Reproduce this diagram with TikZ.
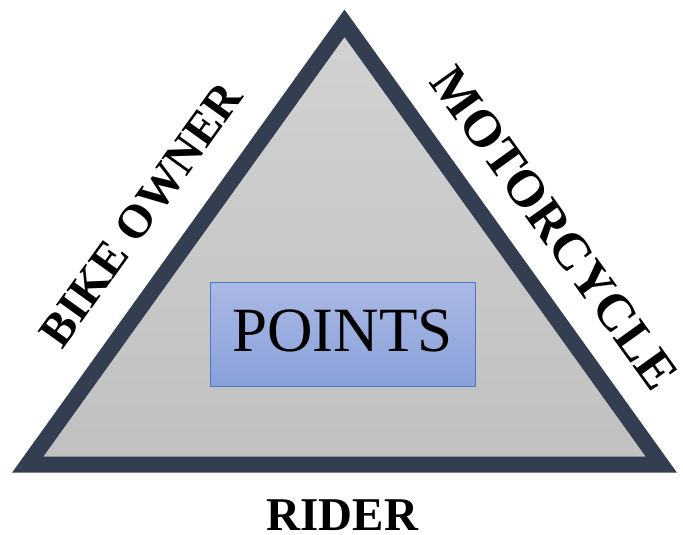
\documentclass[tikz,border=0pt]{standalone}
\usepackage{fontspec}
\setmainfont{Liberation Serif}
\definecolor{edgeslate}{RGB}{51,63,80}
\definecolor{greytop}{RGB}{210,210,210}
\definecolor{greybot}{RGB}{192,192,192}
\definecolor{bluetop}{RGB}{170,184,228}
\definecolor{bluebot}{RGB}{137,161,218}
\definecolor{blueline}{RGB}{72,120,206}
\tikzset{
  sidelabel/.style={font=\bfseries\fontsize{47}{47}\selectfont, anchor=base},
  pointsbox/.style={draw=blueline, line width=1pt, top color=bluetop, bottom color=bluebot,
    minimum width=265pt, minimum height=104pt, inner sep=0pt,
    text height=41pt, text depth=7pt, font=\fontsize{63}{63}\selectfont}
}
\begin{document}
\begin{tikzpicture}[x=1pt, y=1pt]
  \useasboundingbox (0,0) rectangle (683,535);
  \coordinate (T) at (344.5,511.7);
  \coordinate (L) at (27.6,70.3);
  \coordinate (R) at (661.4,70.3);

  \path[draw=edgeslate, line width=16pt, line join=miter, top color=greytop, bottom color=greybot]
    (T) -- (L) -- (R) -- cycle;

  \node[pointsbox] (points) at (342.5,200.5) {POINTS};

  \node[sidelabel, rotate=54.3] (owner) at (153.3,311.6) {BIKE OWNER};
  \node[sidelabel, rotate=-54.3, font=\bfseries\fontsize{52}{52}\selectfont] (cycle) at (540.8,297) {MOTORCYCLE};
  \node[sidelabel] (rider) at (342.5,4) {RIDER};
\end{tikzpicture}
\end{document}
